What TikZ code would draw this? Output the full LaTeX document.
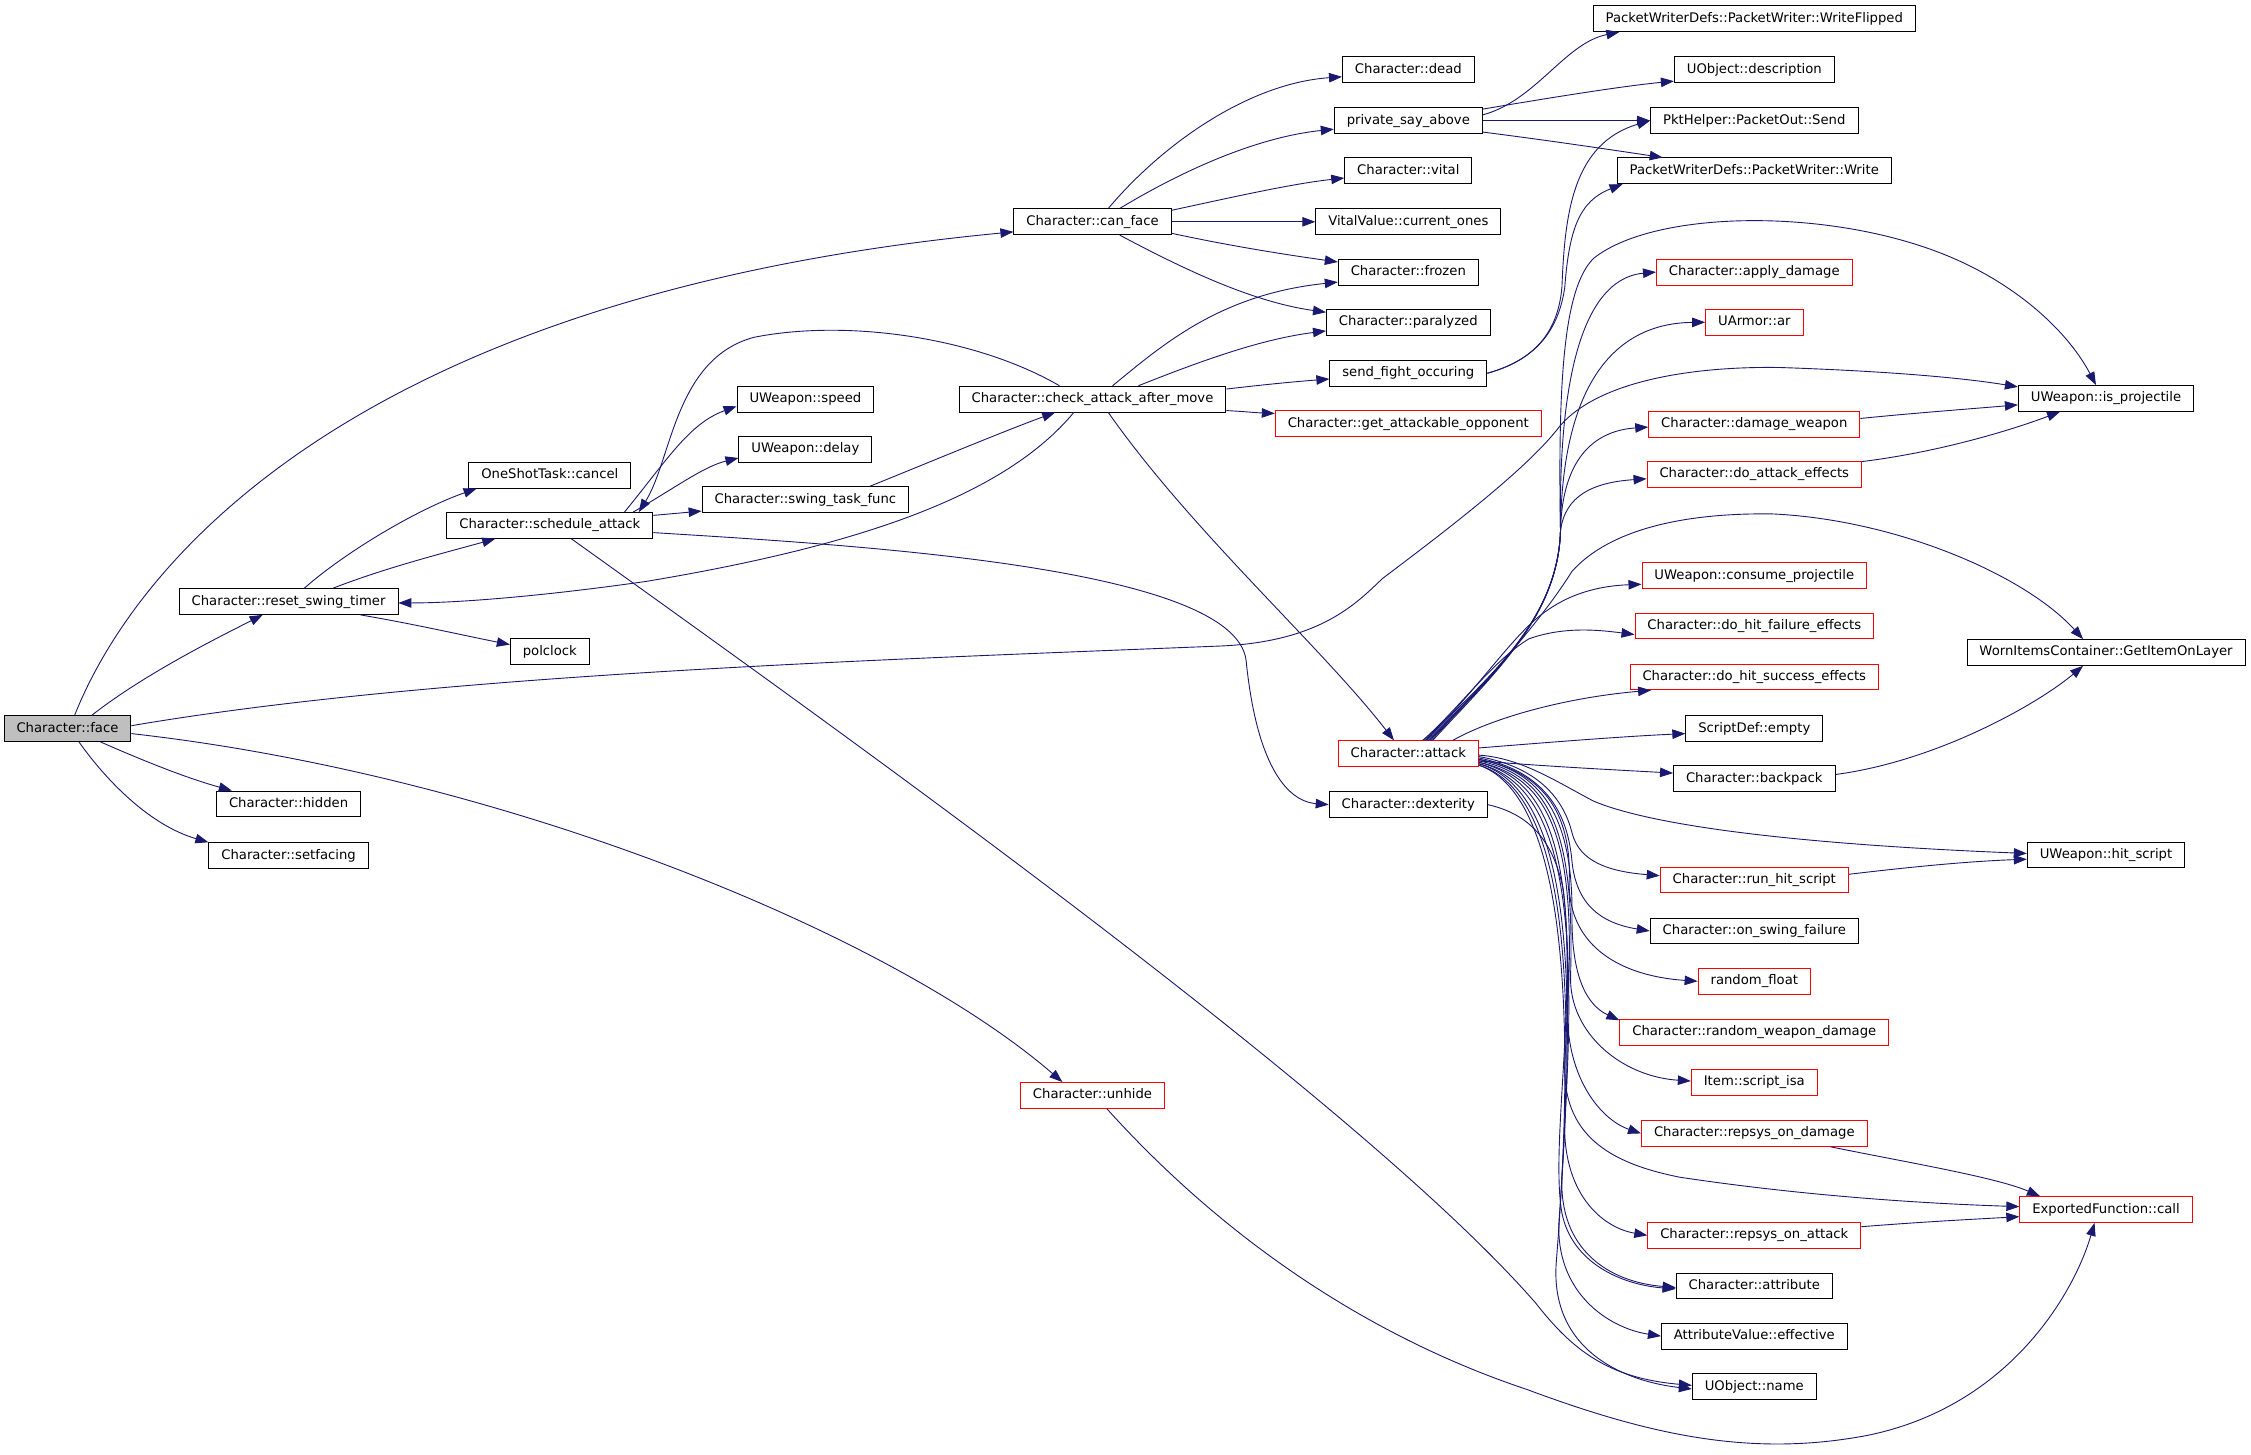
\documentclass[tikz,border=0pt]{standalone}
\usepackage{fontspec}
\setmainfont{DejaVu Sans}
\usetikzlibrary{arrows.meta,calc}
\definecolor{edgec}{HTML}{191970}
\definecolor{nodered}{HTML}{FF0000}
\definecolor{facegray}{HTML}{BFBFBF}
\tikzset{
  nd/.style={draw=black, line width=0.9pt, fill=white, minimum height=25.8pt,
    inner xsep=12.5pt, inner ysep=0pt, text height=9.6pt, text depth=2.6pt,
    font=\fontsize{13.2pt}{15pt}\selectfont, text=black},
  rnd/.style={nd, draw=nodered},
  conn/.style={draw=edgec, line width=0.9pt, -{Triangle[length=13pt,width=9.5pt]}},
}
\begin{document}
\begin{tikzpicture}[x=1.4356pt,y=-1.4356pt]
\fill[white] (0,0) rectangle (1568,1013.5);
\useasboundingbox (0,0) rectangle (1568,1013.5);

% column 0-4
\node[nd, fill=facegray] (face) at (47,507.5) {Character::face};
\node[nd] (reset) at (201,419) {Character::reset\_swing\_timer};
\node[nd] (hidden) at (201,560) {Character::hidden};
\node[nd] (setfacing) at (201,596) {Character::setfacing};
\node[nd] (cancel) at (383,331) {OneShotTask::cancel};
\node[nd] (sched) at (383,366) {Character::schedule\_attack};
\node[nd] (polclock) at (383,454) {polclock};
\node[nd] (speed) at (561,278) {UWeapon::speed};
\node[nd] (delay) at (561,313) {UWeapon::delay};
\node[nd] (swing) at (561,348) {Character::swing\_task\_func};
\node[nd] (canface) at (761,154.5) {Character::can\_face};
\node[nd] (check) at (761,278) {Character::check\_attack\_after\_move};
\node[rnd] (unhide) at (761,763) {Character::unhide};
% column 5
\node[nd] (dead) at (981,48.5) {Character::dead};
\node[nd] (private) at (981,84) {private\_say\_above};
\node[nd] (vital) at (981,119) {Character::vital};
\node[nd] (current) at (981,154.5) {VitalValue::current\_ones};
\node[nd] (frozen) at (981,189.5) {Character::frozen};
\node[nd] (paralyzed) at (981,224.5) {Character::paralyzed};
\node[nd] (sendfight) at (981,260) {send\_fight\_occuring};
\node[rnd] (getopp) at (981,295) {Character::get\_attackable\_opponent};
\node[rnd] (attack) at (981,525) {Character::attack};
\node[nd] (dex) at (981,560.5) {Character::dexterity};
% column 6
\node[nd] (wflip) at (1222,13) {PacketWriterDefs::PacketWriter::WriteFlipped};
\node[nd] (desc) at (1222,48.5) {UObject::description};
\node[nd] (send) at (1222,84) {PktHelper::PacketOut::Send};
\node[nd] (write) at (1222,119) {PacketWriterDefs::PacketWriter::Write};
\node[rnd] (apply) at (1222,189.5) {Character::apply\_damage};
\node[rnd] (ar) at (1222,224.5) {UArmor::ar};
\node[rnd] (dmgw) at (1222,295.5) {Character::damage\_weapon};
\node[rnd] (atkfx) at (1222,330.5) {Character::do\_attack\_effects};
\node[rnd] (consume) at (1222,401) {UWeapon::consume\_projectile};
\node[rnd] (fail) at (1222,436) {Character::do\_hit\_failure\_effects};
\node[rnd] (succ) at (1222,471.5) {Character::do\_hit\_success\_effects};
\node[nd] (empty) at (1222,507.5) {ScriptDef::empty};
\node[nd] (backpack) at (1222,542.5) {Character::backpack};
\node[rnd] (runhit) at (1222,613) {Character::run\_hit\_script};
\node[nd] (swfail) at (1222,648.5) {Character::on\_swing\_failure};
\node[rnd] (rfloat) at (1222,683.5) {random\_float};
\node[rnd] (rwd) at (1222,719) {Character::random\_weapon\_damage};
\node[rnd] (isa) at (1222,754) {Item::script\_isa};
\node[rnd] (rdmg) at (1222,789.5) {Character::repsys\_on\_damage};
\node[rnd] (ratk) at (1222,860.5) {Character::repsys\_on\_attack};
\node[nd] (attr) at (1222,895.8) {Character::attribute};
\node[nd] (eff) at (1222,930.7) {AttributeValue::effective};
\node[nd] (name) at (1222,966) {UObject::name};
% column 7
\node[nd] (isproj) at (1467,277.5) {UWeapon::is\_projectile};
\node[nd] (getitem) at (1467,454.5) {WornItemsContainer::GetItemOnLayer};
\node[nd] (hitscr) at (1467,595.5) {UWeapon::hit\_script};
\node[rnd] (call) at (1467,842.5) {ExportedFunction::call};

% ---- edges from face
\draw[conn] ($(face.north)+(5,0)$) .. controls (95,390) and (250,205) .. ($(canface.west)+(0,7)$);
\draw[conn] ($(face.north)+(17,0)$) .. controls (100,470) and (150,445) .. ($(reset.south)+(-18,0)$);
\draw[conn] ($(face.east)+(0,-2)$) .. controls (300,470) and (600,460) .. (850,450) .. controls (920,447) and (945,420) .. (963,403) .. controls (1000,375) and (1060,330) .. (1084,300) .. controls (1110,265) and (1180,255) .. (1240,256) .. controls (1300,258) and (1360,262) .. ($(isproj.west)+(0,-8)$);
\draw[conn] ($(face.south)+(23,0)$) .. controls (100,530) and (130,542) .. ($(hidden.north west)+(11,0)$);
\draw[conn] ($(face.south)+(8,0)$) .. controls (75,545) and (105,575) .. (setfacing.north west);
\draw[conn] ($(face.east)+(0,3.5)$) .. controls (350,540) and (620,650) .. ($(unhide.north)+(-21,0)$);
% ---- reset
\draw[conn] ($(reset.north)+(11,0)$) .. controls (240,385) and (290,355) .. ($(cancel.south)+(-51,0)$);
\draw[conn] ($(reset.north)+(31,0)$) .. controls (270,395) and (310,385) .. ($(sched.south)+(-38,0)$);
\draw[conn] ($(reset.south)+(50,0)$) .. controls (290,435) and (320,442) .. ($(polclock.west)+(0,-5)$);
% ---- schedule_attack
\draw[conn] ($(sched.north)+(52,0)$) .. controls (465,320) and (480,295) .. ($(speed.west)+(0,5)$);
\draw[conn] ($(sched.north)+(58,0)$) .. controls (470,340) and (490,325) .. ($(delay.west)+(0,6)$);
\draw[conn] ($(sched.east)+(0,-7)$) -- ($(swing.west)+(0,8)$);
\draw[conn] ($(sched.east)+(0,5)$) .. controls (600,380) and (860,395) .. (868,460) .. controls (875,530) and (895,558) .. (dex.west);
\draw[conn] ($(sched.south)+(15,0)$) .. controls (600,520) and (950,770) .. (1070,908) .. controls (1095,940) and (1120,960) .. ($(name.west)+(0,-1)$);
% ---- unhide
\draw[conn] ($(unhide.south)+(10,0)$) .. controls (850,860) and (950,930) .. (1064,968) .. controls (1150,1000) and (1220,1015) .. (1300,1000) .. controls (1400,980) and (1445,900) .. ($(call.south)+(-8,0)$);
% ---- can_face
\draw[conn] ($(canface.north)+(11,0)$) .. controls (810,100) and (870,58) .. ($(dead.west)+(0,5)$);
\draw[conn] ($(canface.north)+(19,0)$) .. controls (830,115) and (880,95) .. ($(private.west)+(0,6)$);
\draw[conn] ($(canface.east)+(0,-8)$) .. controls (860,137) and (900,128) .. ($(vital.west)+(0,5)$);
\draw[conn] (canface.east) -- (current.west);
\draw[conn] ($(canface.east)+(0,8)$) .. controls (860,172) and (900,178) .. ($(frozen.west)+(0,-7)$);
\draw[conn] ($(canface.south)+(19,0)$) .. controls (820,185) and (870,210) .. ($(paralyzed.west)+(0,-7)$);
% ---- check_attack_after_move
\draw[conn] ($(check.north)+(14,0)$) .. controls (810,240) and (850,205) .. ($(frozen.west)+(0,7)$);
\draw[conn] ($(check.north)+(32,0)$) .. controls (840,250) and (880,236) .. ($(paralyzed.west)+(0,6)$);
\draw[conn] ($(check.east)+(0,-7)$) .. controls (880,268) and (900,266) .. ($(sendfight.west)+(0,4)$);
\draw[conn] ($(check.east)+(0,8)$) .. controls (865,286.5) and (875,287.5) .. ($(getopp.west)+(0,-7)$);
\draw[conn] ($(check.south)+(-13,0)$) .. controls (700,345) and (600,380) .. (450,405) .. controls (380,415) and (320,420) .. ($(reset.east)+(0,1)$);
\draw[conn] ($(check.south)+(11,0)$) .. controls (830,370) and (920,450) .. ($(attack.north)+(-10,0)$);
\draw[conn] ($(check.north)+(-23,0)$) .. controls (680,235) and (590,222) .. (525,235) .. controls (470,250) and (468,320) .. ($(sched.north)+(62,0)$);
\draw[conn] ($(swing.north)+(45,0)$) .. controls (640,325) and (700,300) .. ($(check.south)+(-26,0)$);
% ---- private_say_above
\draw[conn] ($(private.east)+(0,-4)$) .. controls (1070,70) and (1090,30) .. ($(wflip.south)+(-94,0)$);
\draw[conn] ($(private.east)+(0,-8)$) .. controls (1080,68) and (1130,60) .. ($(desc.west)+(0,8)$);
\draw[conn] (private.east) -- (send.west);
\draw[conn] ($(private.east)+(0,8)$) .. controls (1080,98) and (1120,104) .. ($(write.north west)+(32,0)$);
% ---- send_fight_occuring
\draw[conn] (sendfight.east) .. controls (1065,252) and (1085,235) .. (1088,200) .. controls (1090,150) and (1095,100) .. (send.west);
\draw[conn] (sendfight.east) .. controls (1065,252) and (1085,235) .. (1090,200) .. controls (1093,160) and (1100,140) .. ($(write.south west)+(4,0)$);
% ---- attack, upward fan
\draw[conn] ($(attack.north)+(12,0)$) .. controls (1030,480) and (1055,440) .. (1078,425) .. controls (1095,413) and (1115,408) .. ($(consume.west)+(0,6)$);
\draw[conn] ($(attack.north)+(10,0)$) .. controls (1015,495) and (1040,460) .. (1065,445) .. controls (1090,436) and (1115,439) .. ($(fail.west)+(0,6)$);
\draw[conn] ($(attack.north)+(14,0)$) .. controls (1040,470) and (1085,430) .. (1087,370) .. controls (1090,345) and (1110,336) .. ($(atkfx.west)+(0,3)$);
\draw[conn] ($(attack.north)+(15,0)$) .. controls (1040,470) and (1085,430) .. (1087,370) .. controls (1088,320) and (1110,300) .. ($(dmgw.west)+(0,2)$);
\draw[conn] ($(attack.north)+(16,0)$) .. controls (1040,470) and (1075,430) .. (1095,398) .. controls (1120,370) and (1170,357) .. (1235,358) .. controls (1320,362) and (1410,400) .. ($(getitem.north)+(-16,0)$);
\draw[conn] ($(attack.north)+(13,0)$) .. controls (1040,470) and (1085,430) .. (1087,370) .. controls (1088,260) and (1130,225) .. (ar.west);
\draw[conn] ($(attack.north)+(11,0)$) .. controls (1040,470) and (1085,430) .. (1087,370) .. controls (1085,230) and (1115,193) .. (apply.west);
\draw[conn] ($(attack.north)+(17,0)$) .. controls (1040,470) and (1085,430) .. (1087,370) .. controls (1085,260) and (1090,200) .. (1110,180) .. controls (1150,148) and (1260,145) .. (1340,172) .. controls (1400,192) and (1440,230) .. ($(isproj.north)+(-7,0)$);
\draw[conn] ($(attack.north)+(31,0)$) .. controls (1040,500) and (1090,486) .. ($(succ.south west)+(15,0)$);
% ---- attack, right side
\draw[conn] ($(attack.east)+(0,-4)$) .. controls (1080,517) and (1130,513) .. ($(empty.west)+(0,3.5)$);
\draw[conn] ($(attack.east)+(0,5)$) .. controls (1080,534) and (1120,536) .. ($(backpack.west)+(0,-4)$);
\draw[conn] ($(attack.east)+(0,1)$) .. controls (1060,528) and (1085,545) .. (1110,558) .. controls (1150,575) and (1250,588) .. ($(hitscr.west)+(0,-1)$);
\draw[conn] ($(attack.east)+(0,2)$) .. controls (1075,535) and (1090,560) .. (1095,580) .. controls (1100,600) and (1120,607) .. ($(runhit.west)+(0,-3)$);
\draw[conn] ($(attack.east)+(0,3)$) .. controls (1075,537) and (1092,565) .. (1095,600) .. controls (1098,630) and (1115,643) .. (swfail.west);
\draw[conn] ($(attack.east)+(0,4)$) .. controls (1078,538) and (1095,570) .. (1093,615) .. controls (1093,660) and (1130,680) .. (rfloat.west);
\draw[conn] ($(attack.east)+(0,4)$) .. controls (1078,538) and (1096,575) .. (1095,640) .. controls (1095,680) and (1105,700) .. ($(rwd.north west)+(0,1)$);
\draw[conn] ($(attack.east)+(0,5)$) .. controls (1080,540) and (1097,580) .. (1094,680) .. controls (1093,720) and (1130,750) .. ($(isa.west)+(0,-1)$);
\draw[conn] ($(attack.east)+(0,6)$) .. controls (1082,542) and (1098,590) .. (1092,700) .. controls (1090,750) and (1115,780) .. (rdmg.west);
\draw[conn] ($(attack.east)+(0,6)$) .. controls (1082,544) and (1098,600) .. (1090,740) .. controls (1088,790) and (1120,810) .. (1170,820) .. controls (1250,832) and (1330,838) .. ($(call.west)+(0,-2)$);
\draw[conn] ($(attack.east)+(0,7)$) .. controls (1084,546) and (1100,620) .. (1090,780) .. controls (1088,830) and (1115,855) .. (ratk.west);
\draw[conn] ($(attack.east)+(0,7)$) .. controls (1084,548) and (1100,640) .. (1088,820) .. controls (1086,870) and (1120,893) .. ($(attr.west)+(0,1)$);
\draw[conn] ($(attack.east)+(0,8)$) .. controls (1085,550) and (1100,660) .. (1086,850) .. controls (1083,900) and (1120,925) .. (eff.west);
\draw[conn] ($(attack.east)+(0,8)$) .. controls (1085,552) and (1100,680) .. (1084,880) .. controls (1080,940) and (1130,962) .. ($(name.west)+(0,1.5)$);
\draw[conn] (dex.east) .. controls (1065,567) and (1082,585) .. (1089,620) .. controls (1098,700) and (1080,800) .. (1088,845) .. controls (1095,880) and (1130,895) .. ($(attr.west)+(0,2)$);
% ---- right column to far right
\draw[conn] ($(dmgw.east)+(0,-4)$) .. controls (1330,288) and (1370,285) .. ($(isproj.west)+(0,4.5)$);
\draw[conn] ($(atkfx.east)+(0,-9)$) .. controls (1350,315) and (1400,300) .. ($(isproj.south)+(-32,0)$);
\draw[conn] ($(backpack.east)+(0,-3)$) .. controls (1350,530) and (1420,490) .. ($(getitem.south)+(-16,0)$);
\draw[conn] ($(runhit.east)+(0,-4)$) .. controls (1330,604) and (1370,600) .. ($(hitscr.west)+(0,3)$);
\draw[conn] ($(rdmg.south)+(53,0)$) .. controls (1330,810) and (1390,820) .. ($(call.north)+(-46,0)$);
\draw[conn] ($(ratk.east)+(0,-6)$) .. controls (1340,851) and (1380,849) .. ($(call.west)+(0,5)$);
\end{tikzpicture}
\end{document}
